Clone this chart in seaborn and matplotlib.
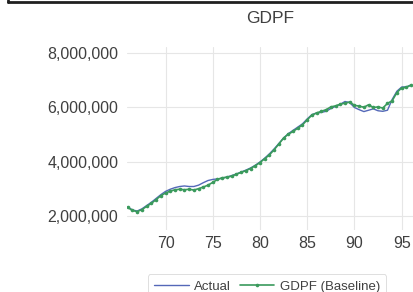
import numpy as np
import pandas as pd
import matplotlib
matplotlib.use("Agg")
import matplotlib.pyplot as plt
import seaborn as sns
from matplotlib.lines import Line2D

# half-yearly observations, 1966 - 1996 (values in millions)
years = [66.0, 66.5, 67.0, 67.5, 68.0, 68.5, 69.0, 69.5, 70.0, 70.5,
         71.0, 71.5, 72.0, 72.5, 73.0, 73.5, 74.0, 74.5, 75.0, 75.5,
         76.0, 76.5, 77.0, 77.5, 78.0, 78.5, 79.0, 79.5, 80.0, 80.5,
         81.0, 81.5, 82.0, 82.5, 83.0, 83.5, 84.0, 84.5, 85.0, 85.5,
         86.0, 86.5, 87.0, 87.5, 88.0, 88.5, 89.0, 89.5, 90.0, 90.5,
         91.0, 91.5, 92.0, 92.5, 93.0, 93.5, 94.0, 94.5, 95.0, 95.5,
         96.0]
actual = [2.35, 2.24, 2.20, 2.28, 2.40, 2.52, 2.66, 2.80, 2.92, 3.00,
          3.06, 3.10, 3.12, 3.10, 3.10, 3.15, 3.24, 3.32, 3.36, 3.38,
          3.40, 3.45, 3.50, 3.56, 3.63, 3.70, 3.78, 3.88, 4.00, 4.14,
          4.30, 4.48, 4.68, 4.88, 5.04, 5.16, 5.28, 5.40, 5.58, 5.74,
          5.80, 5.82, 5.86, 5.96, 6.04, 6.12, 6.22, 6.18, 6.00, 5.92,
          5.85, 5.90, 5.95, 5.88, 5.86, 5.90, 6.30, 6.60, 6.75, 6.76,
          6.82]
baseline = [2.33, 2.22, 2.18, 2.25, 2.37, 2.48, 2.62, 2.76, 2.86, 2.93,
            2.98, 3.00, 2.98, 3.00, 2.97, 3.02, 3.08, 3.15, 3.25, 3.36,
            3.42, 3.44, 3.48, 3.55, 3.62, 3.68, 3.76, 3.86, 3.98, 4.12,
            4.26, 4.45, 4.66, 4.88, 5.02, 5.12, 5.24, 5.36, 5.55, 5.72,
            5.80, 5.86, 5.92, 6.02, 6.06, 6.12, 6.16, 6.20, 6.08, 6.05,
            6.01, 6.10, 6.00, 6.02, 5.98, 6.15, 6.25, 6.55, 6.72, 6.74,
            6.83]

y_ticks = [2000000, 4000000, 6000000, 8000000]
x_ticks = [70, 75, 80, 85, 90, 95]

df = pd.DataFrame({"year": years,
                   "Actual": np.array(actual) * 1e6,
                   "GDPF (Baseline)": np.array(baseline) * 1e6})

sns.set_style("white")
plt.rcParams["font.family"] = ["Liberation Sans", "DejaVu Sans"]

fig = plt.figure(figsize=(4.13, 2.92), dpi=100)
ax = fig.add_axes([0.307, 0.212, 0.693, 0.627])

sns.lineplot(data=df, x="year", y="Actual", ax=ax, color="#5468b8",
             linewidth=1.0, label="Actual")
sns.lineplot(data=df, x="year", y="GDPF (Baseline)", ax=ax, color="#3a9a5c",
             linewidth=1.2, marker="o", markersize=2.6, markeredgewidth=0,
             label="GDPF (Baseline)")

ax.set_xlim(65.9, 96.2)
ax.set_ylim(1500000, 8220000)
ax.set_xticks(x_ticks)
ax.set_yticks(y_ticks)
ax.set_yticklabels([f"{v:,}" for v in y_ticks])
ax.grid(True, color="#e6e6e6", linewidth=0.8)
for s in ax.spines.values():
    s.set_visible(False)
ax.tick_params(length=0, labelsize=11.5, colors="#404040")
ax.tick_params(axis="y", pad=6)
ax.tick_params(axis="x", pad=4)
ax.set_xlabel("")
ax.set_ylabel("")
ax.set_title("GDPF", fontsize=12.5, color="#404040", pad=17)

leg = ax.legend(loc="upper center", bbox_to_anchor=(0.49, -0.205), ncol=2,
                frameon=True, fontsize=9.5, handlelength=2.6, numpoints=1,
                columnspacing=0.7, handletextpad=0.4, borderpad=0.5)
leg.get_frame().set_edgecolor("#d0d0d0")
leg.get_frame().set_linewidth(0.6)
for t in leg.get_texts():
    t.set_color("#404040")

# dark frame edge along the top of the image
fig.add_artist(Line2D([0.02, 1.0], [0.993, 0.993], transform=fig.transFigure,
                      color="#202020", linewidth=2.0))
fig.add_artist(Line2D([0.02, 0.02], [0.993, 1.0], transform=fig.transFigure,
                      color="#202020", linewidth=2.0))

fig.savefig("out.png", dpi=100)
